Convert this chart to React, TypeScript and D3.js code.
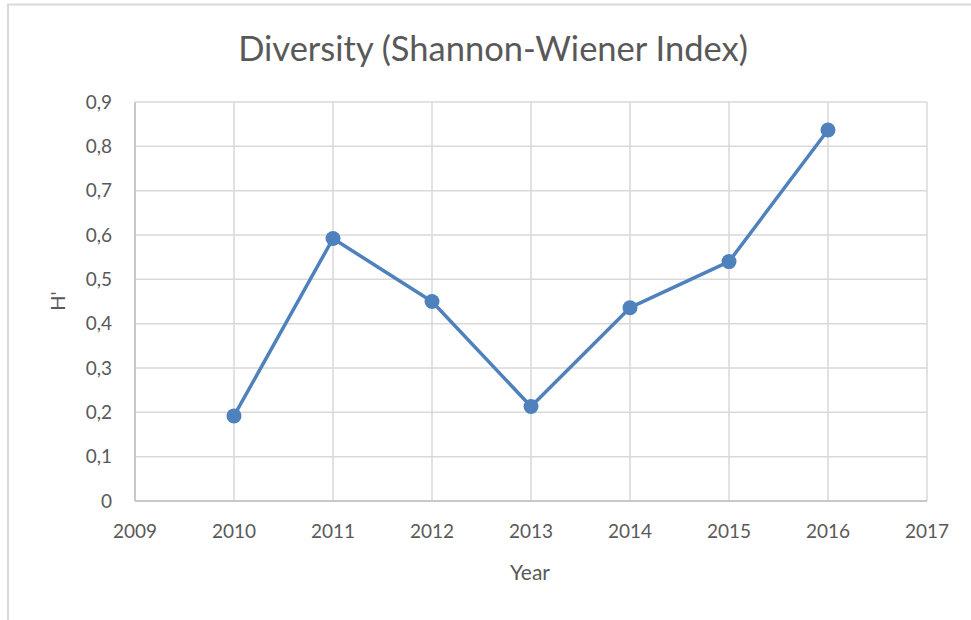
import React from "react";
import * as d3 from "d3";

const title = "Diversity (Shannon-Wiener Index)";
const xAxisTitle = "Year";
const yAxisTitle = "H'";
const years = [2010, 2011, 2012, 2013, 2014, 2015, 2016];
const values = [0.192, 0.592, 0.45, 0.213, 0.436, 0.54, 0.837];
const xTicks = [2009, 2010, 2011, 2012, 2013, 2014, 2015, 2016, 2017];
const yTicks = [0, 0.1, 0.2, 0.3, 0.4, 0.5, 0.6, 0.7, 0.8, 0.9];

const W = 971;
const H = 620;
const plot = { left: 135, right: 927, top: 102, bottom: 501 };
const font = "Lato, 'Open Sans', sans-serif";
const textColor = "#595959";
const gridColor = "#d9d9d9";
const lineColor = "#4f81bd";

export default function App() {
  const x = d3.scaleLinear().domain([2009, 2017]).range([plot.left, plot.right]);
  const y = d3.scaleLinear().domain([0, 0.9]).range([plot.bottom, plot.top]);
  const pts = years.map((yr, i) => [yr, values[i]] as [number, number]);
  const line = d3.line<[number, number]>().x((d) => x(d[0])).y((d) => y(d[1]));
  const fmt = (v: number) => (v === 0 ? "0" : d3.format(".1f")(v).replace(".", ","));

  return (
    <svg
      width={W}
      height={H}
      style={{ position: "absolute", left: 0, top: 0, background: "#fff" }}
      fontFamily={font}
    >
      <rect x={0} y={0} width={W} height={H} fill="#fff" />
      {/* chart border (top & left visible) */}
      <line x1={7} x2={W} y1={4.5} y2={4.5} stroke="#d9d9d9" strokeWidth={2} />
      <line x1={8} x2={8} y1={4} y2={H} stroke="#d9d9d9" strokeWidth={2} />

      {/* gridlines */}
      {yTicks.map((t) => (
        <line key={"gy" + t} x1={plot.left} x2={plot.right} y1={y(t)} y2={y(t)} stroke={gridColor} strokeWidth={1.5} />
      ))}
      {xTicks.map((t) => (
        <line key={"gx" + t} x1={x(t)} x2={x(t)} y1={plot.top} y2={plot.bottom} stroke={gridColor} strokeWidth={1.5} />
      ))}
      {/* axes */}
      <line x1={plot.left} x2={plot.right} y1={plot.bottom} y2={plot.bottom} stroke="#c8c8c8" strokeWidth={2} />
      <line x1={plot.left} x2={plot.left} y1={plot.top} y2={plot.bottom} stroke="#c8c8c8" strokeWidth={2} />

      {/* tick labels */}
      {yTicks.map((t) => (
        <text key={"ty" + t} x={112} y={y(t)} dy="0.35em" textAnchor="end" fontSize={19} fill={textColor}>
          {fmt(t)}
        </text>
      ))}
      {xTicks.map((t) => (
        <text key={"tx" + t} x={x(t)} y={538} textAnchor="middle" fontSize={19} fill={textColor}>
          {t}
        </text>
      ))}

      {/* series */}
      <path d={line(pts) || ""} fill="none" stroke={lineColor} strokeWidth={3.5} strokeLinejoin="round" />
      {pts.map((d, i) => (
        <circle key={"p" + i} cx={x(d[0])} cy={y(d[1])} r={7.5} fill={lineColor} />
      ))}

      {/* titles */}
      <text x={493} y={61} textAnchor="middle" fontSize={34.5} fill={textColor}>
        {title}
      </text>
      <text x={530} y={580} textAnchor="middle" fontSize={21} fill={textColor}>
        {xAxisTitle}
      </text>
      <text
        transform={`translate(65,301) rotate(-90)`}
        textAnchor="middle"
        fontSize={20}
        fill={textColor}
      >
        {yAxisTitle}
      </text>
    </svg>
  );
}
